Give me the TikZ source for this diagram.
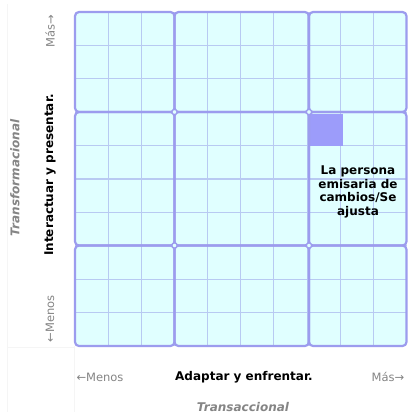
\documentclass[tikz,border=0pt]{standalone}
\usepackage{fontspec}
\setmainfont{DejaVu Sans}
\definecolor{cellfill}{HTML}{E0FFFF}
\definecolor{minorline}{HTML}{B8CAF2}
\definecolor{majorline}{HTML}{9C9CEE}
\definecolor{markfill}{HTML}{9C9CFA}
\definecolor{softgray}{HTML}{858585}
\begin{document}
\begin{tikzpicture}[x=1pt, y=-1pt,
    major/.style={draw=majorline, line width=2.2pt, rounded corners=4pt},
    minor/.style={draw=minorline, line width=1.1pt},
    endlbl/.style={text=softgray, font=\fontsize{11.5}{13}\selectfont, inner sep=0pt},
    axislbl/.style={font=\bfseries\fontsize{12}{14}\selectfont, inner sep=0pt},
    kindlbl/.style={text=softgray, font=\bfseries\itshape\fontsize{12}{14}\selectfont, inner sep=0pt}]
        \useasboundingbox (0,0) rectangle (408,416);
        \fill[white] (0,0) rectangle (408,416);

        % faint table borders
        \draw[black!4, line width=0.6pt] (7,4) -- (7,412);
        \draw[black!4, line width=0.6pt] (74,346) -- (74,412);
        \draw[black!4, line width=0.6pt] (7,347) -- (74,347);

        \begin{scope}
            \fill[cellfill, rounded corners=4pt] (75,12) rectangle (406.5,346);
            \foreach \i in {1,...,9} {
                \draw[minor] ({75+\i*33.15},12) -- ({75+\i*33.15},346);
                \draw[minor] (75,{12+\i*33.4}) -- (406.5,{12+\i*33.4});
            }
            \fill[markfill] (309.5,114) rectangle (342.5,145.5);
        \end{scope}

        \begin{scope}
            \foreach \xa/\xb in {75/174.5, 174.5/309, 309/406.5} {
                \foreach \ya/\yb in {12/112, 112/245.5, 245.5/346} {
                    \draw[major] (\xa,\ya) rectangle (\xb,\yb);
                }
            }
            \foreach \p in {(174.5,112), (309,112), (174.5,245.5), (309,245.5)} {
                \draw[majorline, fill=cellfill, line width=1.2pt] \p circle (2.6pt);
            }
        \end{scope}

        \node[font=\bfseries\fontsize{12}{13.7}\selectfont, align=center, inner sep=0pt] (persona) at (358,192) {La persona\\emisaria de\\cambios/Se\\ajusta};

        % vertical axis
        \node[endlbl, rotate=90] (vmas) at (50,31) {Más→};
        \node[endlbl, rotate=90] (vmenos) at (50,319) {←Menos};
        \node[axislbl, rotate=90] (vaxis) at (50,175) {Interactuar y presentar.};
        \node[kindlbl, rotate=90] (vkind) at (15,178) {Transformacional};

        % horizontal axis
        \node[endlbl] (hmenos) at (100,377) {←Menos};
        \node[axislbl] (haxis) at (244,377) {Adaptar y enfrentar.};
        \node[endlbl] (hmas) at (388,377) {Más→};
        \node[kindlbl] (hkind) at (243,407) {Transaccional};
    \end{tikzpicture}
\end{document}
